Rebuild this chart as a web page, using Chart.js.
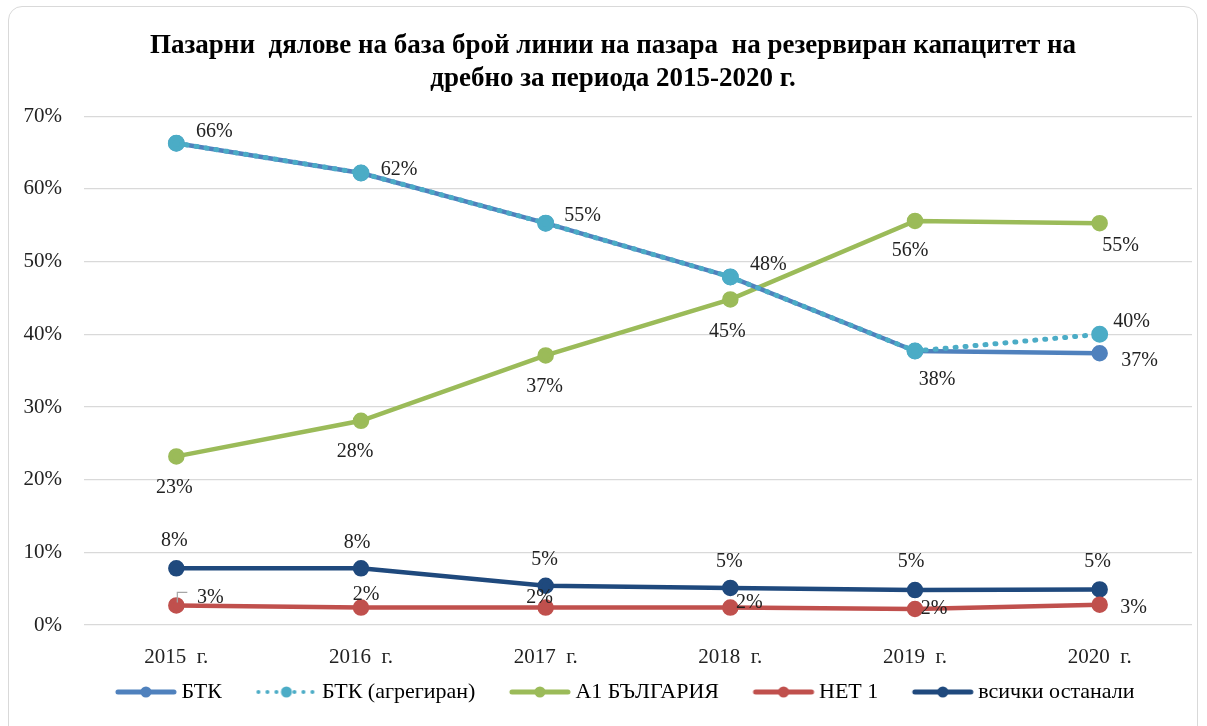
<!DOCTYPE html>
<html>
<head>
<meta charset="utf-8">
<script src="https://cdn.jsdelivr.net/npm/chart.js@4.4.1/dist/chart.umd.min.js"></script>
<style>
  html, body { margin: 0; padding: 0; background: #fff; }
  #wrap { position: relative; width: 1207px; height: 726px; overflow: hidden; }
  #frame { position: absolute; left: 8px; top: 6px; width: 1190px; height: 740px;
           border: 1px solid #d9d9d9; border-radius: 14px; box-sizing: border-box; }
  #chart { position: absolute; left: 0; top: 0; }
</style>
</head>
<body>
<div id="wrap">
  <div id="frame"></div>
  <canvas id="chart" width="1207" height="726"></canvas>
</div>
<script>
// data
const years = ["2015  г.", "2016  г.", "2017  г.", "2018  г.", "2019  г.", "2020  г."];
const btk = [66.3, 62.2, 55.3, 47.9, 37.7, 37.4];
const btkAggregated = [66.3, 62.2, 55.3, 47.9, 37.7, 40.0];
const a1 = [23.2, 28.1, 37.1, 44.8, 55.6, 55.3];
const net1 = [2.7, 2.4, 2.4, 2.4, 2.2, 2.8];
const others = [7.8, 7.8, 5.4, 5.1, 4.8, 4.9];
const yTicks = [0, 10, 20, 30, 40, 50, 60, 70];

const FONT = "'Liberation Serif', 'Times New Roman', serif";
Chart.defaults.font.family = FONT;
Chart.defaults.color = '#222';

// where each value label sits relative to its point (null = no label)
const labelOffsets = {
    btk: [[38, -11], [38, -3], [37, -7], [38, -12], [22, 29], [40, 8]],
    agg: [null, null, null, null, null, [32, -13]],
    a1: [[-2, 31], [-6, 31], [-1, 31], [-3, 32], [-5, 30], [21, 23]],
    net1: [[34, -8], [5, -13], [-6, -10], [19, -5], [19, 0], [34, 3]],
    others: [[-2, -28], [-4, -26], [-1, -26], [-1, -26], [-4, -28], [-2, -28]],
};

// legend swatch: line + marker drawn in the right part of a wider canvas
function legendIcon(color, dotted) {
    const c = document.createElement('canvas');
    c.width = 94;
    c.height = 14;
    const ctx = c.getContext('2d');
    const x0 = 32, x1 = 92, cx = (x0 + x1) / 2;
    ctx.fillStyle = color;
    ctx.strokeStyle = color;
    if (dotted) {
        for (let x = x0 + 2; x <= x1 - 1; x += 9) {
            ctx.beginPath();
            ctx.arc(x, 7, 2, 0, Math.PI * 2);
            ctx.fill();
        }
    } else {
        ctx.lineWidth = 5;
        ctx.lineCap = 'round';
        ctx.beginPath();
        ctx.moveTo(x0 + 2, 7);
        ctx.lineTo(x1 - 2, 7);
        ctx.stroke();
    }
    ctx.beginPath();
    ctx.arc(cx, 7, 5.5, 0, Math.PI * 2);
    ctx.fill();
    return c;
}

function series(label, data, color, key, extra) {
    return Object.assign({
        label: label,
        data: data,
        borderColor: color,
        backgroundColor: color,
        pointBackgroundColor: color,
        pointBorderColor: color,
        borderWidth: 4.5,
        pointRadius: 6,
        pointHoverRadius: 6,
        tension: 0,
        labelKey: key,
        legendIcon: legendIcon(color, extra && extra.borderDash),
    }, extra || {});
}

const valueLabels = {
    id: 'valueLabels',
    afterDatasetsDraw(chart) {
        const ctx = chart.ctx;
        ctx.save();
        ctx.font = `20px ${FONT}`;
        ctx.fillStyle = '#222';
        ctx.textAlign = 'center';
        ctx.textBaseline = 'middle';
        chart.data.datasets.forEach((ds, i) => {
            const meta = chart.getDatasetMeta(i);
            const offs = labelOffsets[ds.labelKey];
            meta.data.forEach((pt, j) => {
                const o = offs[j];
                if (!o) return;
                ctx.fillText(Math.round(ds.data[j]) + '%', pt.x + o[0], pt.y + o[1]);
                if (ds.labelKey === 'net1' && j === 0) {
                    // small leader line
                    ctx.strokeStyle = '#a6a6a6';
                    ctx.lineWidth = 1.2;
                    ctx.beginPath();
                    ctx.moveTo(pt.x + 1, pt.y - 3);
                    ctx.lineTo(pt.x + 1, pt.y - 13);
                    ctx.lineTo(pt.x + 11, pt.y - 13);
                    ctx.stroke();
                }
            });
        });
        ctx.restore();
    }
};

// nudge title and legend a bit to the right, like the original
const boxShift = {
    id: 'boxShift',
    afterLayout(chart) {
        chart.legend.left += 10;
        chart.legend.right += 10;
        chart.titleBlock.left += 10;
        chart.titleBlock.right += 10;
    }
};

new Chart(document.getElementById('chart'), {
    type: 'line',
    data: {
        labels: years,
        datasets: [
            series('БТК', btk, '#4f81bd', 'btk', { order: 2 }),
            series('БТК (агрегиран)', btkAggregated, '#4bacc6', 'agg',
                { order: 1, borderDash: [1, 9], borderCapStyle: 'round', borderWidth: 5 }),
            series('А1 БЪЛГАРИЯ', a1, '#9bbb59', 'a1', { order: 3 }),
            series('НЕТ 1', net1, '#c0504d', 'net1', { order: 4 }),
            series('всички останали', others, '#1f497d', 'others', { order: 5 }),
        ]
    },
    options: {
        responsive: false,
        animation: false,
        layout: { padding: { top: 20, left: 14, right: 15, bottom: 13 } },
        scales: {
            x: {
                offset: true,
                afterFit(scale) { scale.height = 46; },
                grid: { display: false },
                border: { display: false },
                ticks: { padding: 12, font: { size: 21 }, color: '#222' },
            },
            y: {
                min: 0,
                max: 70,
                afterFit(scale) { scale.width = 70; },
                afterBuildTicks(scale) { scale.ticks = yTicks.map(v => ({ value: v })); },
                grid: { color: '#d9d9d9', lineWidth: 1.3, drawTicks: false },
                border: { display: false },
                ticks: { padding: 22, font: { size: 21 }, color: '#222', callback: v => v + '%' },
            }
        },
        plugins: {
            tooltip: { enabled: false },
            title: {
                display: true,
                text: ['Пазарни  дялове на база брой линии на пазара  на резервиран капацитет на',
                       'дребно за периода 2015-2020 г.'],
                font: { size: 27, weight: 'bold' },
                color: '#000',
                lineHeight: 1.12,
                padding: { top: 10, bottom: 21.5 },
            },
            legend: {
                position: 'bottom',
                labels: {
                    usePointStyle: true,
                    pointStyleWidth: 79,
                    padding: 10,
                    font: { size: 22 },
                    color: '#222',
                    sort: (a, b) => a.datasetIndex - b.datasetIndex,
                    generateLabels(chart) {
                        return chart.data.datasets.map((ds, i) => ({
                            text: ds.label,
                            pointStyle: ds.legendIcon,
                            fillStyle: ds.borderColor,
                            strokeStyle: ds.borderColor,
                            lineWidth: 0,
                            hidden: false,
                            datasetIndex: i,
                        }));
                    }
                }
            }
        }
    },
    plugins: [valueLabels, boxShift]
});
</script>
</body>
</html>
